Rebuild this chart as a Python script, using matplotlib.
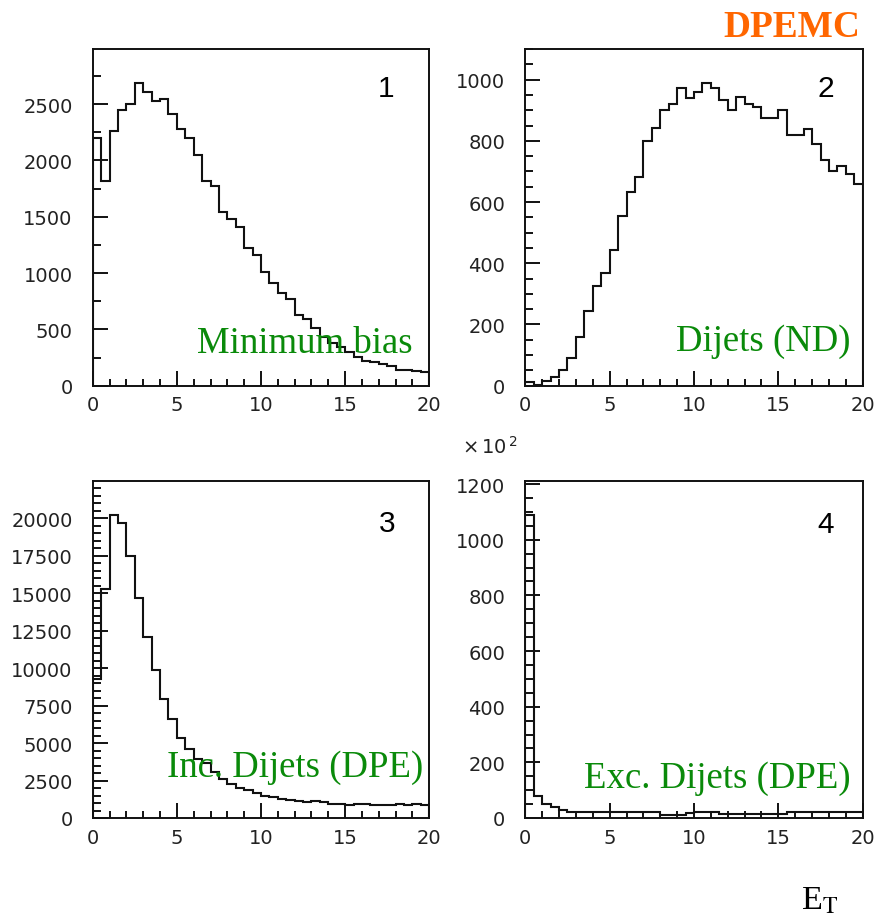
import matplotlib
matplotlib.use("Agg")
import matplotlib.pyplot as plt
import numpy as np
from matplotlib.ticker import MultipleLocator

# E_T bins, 0.5 wide from 0 to 20
et_edges = np.linspace(0, 20, 41)

min_bias = [2204, 1820, 2258, 2447, 2500, 2687, 2604, 2530, 2545, 2412,
            2284, 2196, 2048, 1820, 1775, 1545, 1479, 1406, 1219, 1160,
            1012, 908, 823, 769, 627, 592, 509, 429, 379, 340,
            296, 251, 222, 213, 192, 178, 142, 140, 127, 118]

dijets_nd = [11, 3, 16, 30, 51, 89, 158, 245, 325, 367,
             444, 556, 634, 683, 801, 842, 901, 920, 973, 940,
             959, 989, 973, 935, 901, 942, 920, 910, 874, 874,
             901, 820, 820, 839, 790, 737, 700, 719, 692, 659]

inc_dpe = [9300, 15275, 20226, 19669, 17440, 14650, 12090, 9857, 7917, 6623,
           5330, 4572, 3947, 3650, 3055, 2609, 2275, 1985, 1873, 1673,
           1494, 1383, 1271, 1227, 1160, 1048, 1115, 1048, 937, 937,
           870, 937, 915, 870, 870, 870, 937, 870, 937, 870]

# in units of 10^2
exc_dpe = [1090, 80, 50, 38, 28, 22, 20, 20, 20, 20,
           20, 20, 20, 20, 20, 20, 12, 12, 12, 17,
           22, 22, 20, 13, 13, 13, 13, 13, 13, 13,
           13, 20, 20, 20, 20, 20, 20, 20, 20, 20]

panel_names = ["Minimum bias", "Dijets (ND)", "Inc. Dijets (DPE)", "Exc. Dijets (DPE)"]
panel_nums = ["1", "2", "3", "4"]

W, H = 885, 920
fig = plt.figure(figsize=(W / 100, H / 100), dpi=100)


def box(x0, y0, x1, y1):
    return [x0 / W, 1 - y1 / H, (x1 - x0) / W, (y1 - y0) / H]


def fx(x):
    return x / W


def fy(y):
    return 1 - y / H


panels = [
    (box(92.7, 50, 429.3, 386.7), min_bias, 2990, 500, 250),
    (box(525.3, 50, 862.7, 386.7), dijets_nd, 1100, 200, 50),
    (box(92.7, 482.3, 429.3, 819), inc_dpe, 22450, 2500, 500),
    (box(525.3, 482.3, 862.7, 819), exc_dpe, 1210, 200, 50),
]

for rect, vals, ytop, ymaj, ymin in panels:
    ax = fig.add_axes(rect)
    ax.stairs(vals, et_edges, color="#111111", linewidth=1.5)
    ax.set_xlim(0, 20)
    ax.set_ylim(0, ytop)
    ax.xaxis.set_major_locator(MultipleLocator(5))
    ax.xaxis.set_minor_locator(MultipleLocator(1))
    ax.yaxis.set_major_locator(MultipleLocator(ymaj))
    ax.yaxis.set_minor_locator(MultipleLocator(ymin))
    ax.tick_params(which="both", direction="in", colors="#111111", width=1.4,
                   labelcolor="#222222", labelsize=14)
    ax.tick_params(axis="x", which="major", length=11, pad=7)
    ax.tick_params(axis="x", which="minor", length=5)
    ax.tick_params(axis="y", which="major", length=11, pad=14.5)
    ax.tick_params(axis="y", which="minor", length=6)
    for s in ax.spines.values():
        s.set_linewidth(1.4)
        s.set_color("#111111")

# panel numbers
num_pos = [(386, 96.7), (825.5, 96.7), (387.5, 531.7), (825.5, 532.7)]
for (x, y), n in zip(num_pos, panel_nums):
    fig.text(fx(x), fy(y), n, ha="center", va="baseline", fontsize=21.5,
             family="Liberation Sans", color="black")

# green labels
name_pos = [(413, 353), (850, 350.7), (423, 777.3), (851, 788.3)]
for (x, y), name in zip(name_pos, panel_names):
    fig.text(fx(x), fy(y), name, ha="right", va="baseline", fontsize=26.5,
             family="Liberation Serif", color="#0a8a0a")

fig.text(fx(462), fy(447), r"$\times\,10^{\,2}$", ha="left", va="center",
         fontsize=14, color="#222222", math_fontfamily="dejavusans")

fig.text(fx(791.5), fy(37.3), "DPEMC", ha="center", va="baseline", fontsize=26.9,
         family="Liberation Serif", weight="bold", color="#ff6600")

fig.text(fx(801), fy(910), r"E$_\mathrm{T}$", ha="left", va="baseline", fontsize=24.6,
         family="Liberation Serif", math_fontfamily="stix", color="black")

fig.savefig("out.png", dpi=100)
